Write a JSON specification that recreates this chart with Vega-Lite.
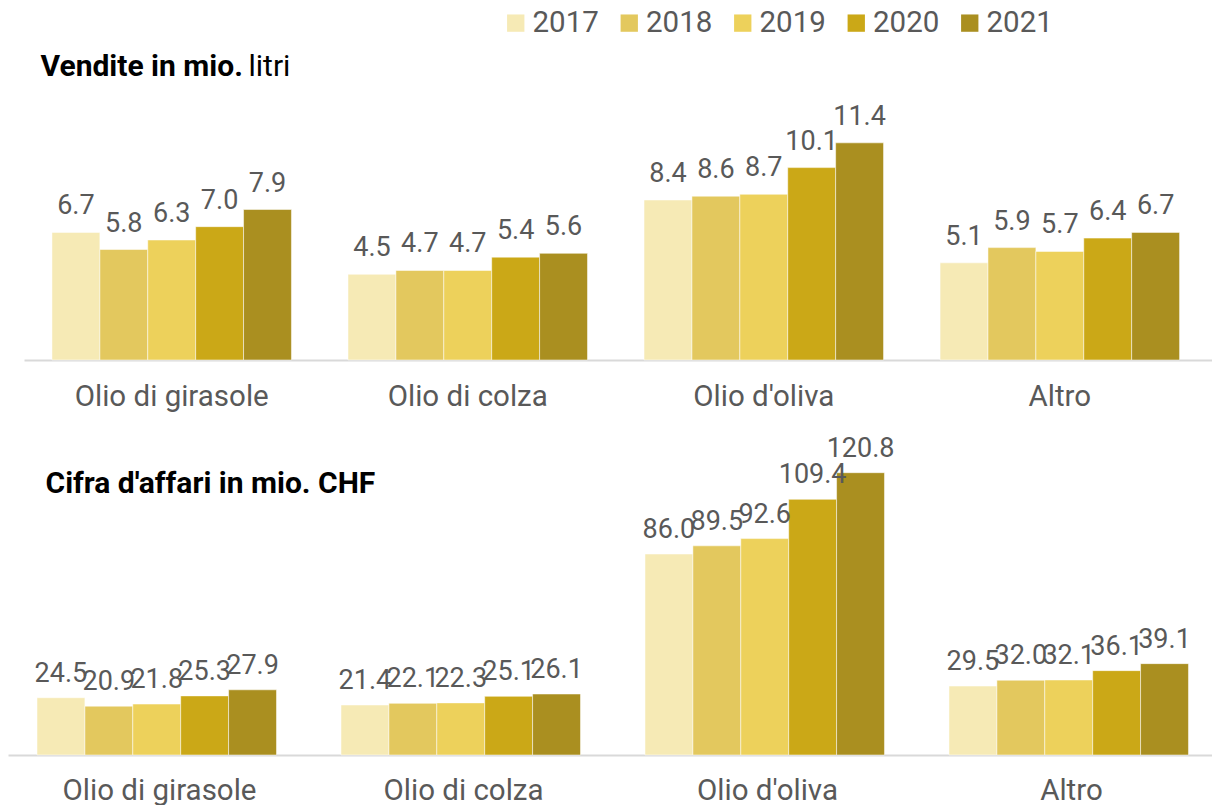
{
  "$schema": "https://vega.github.io/schema/vega-lite/v6.json",
  "padding": {"left": 8, "top": 8, "right": 0, "bottom": 0},
  "background": "white",
  "config": {"font": "Roboto", "view": {"stroke": null}, "axis": {"minExtent": 0}},
  "datasets": {
    "vendite": [
      {"categoria": "Olio di girasole", "anno": "2017", "valore": 6.7},
      {"categoria": "Olio di girasole", "anno": "2018", "valore": 5.8},
      {"categoria": "Olio di girasole", "anno": "2019", "valore": 6.3},
      {"categoria": "Olio di girasole", "anno": "2020", "valore": 7.0},
      {"categoria": "Olio di girasole", "anno": "2021", "valore": 7.9},
      {"categoria": "Olio di colza", "anno": "2017", "valore": 4.5},
      {"categoria": "Olio di colza", "anno": "2018", "valore": 4.7},
      {"categoria": "Olio di colza", "anno": "2019", "valore": 4.7},
      {"categoria": "Olio di colza", "anno": "2020", "valore": 5.4},
      {"categoria": "Olio di colza", "anno": "2021", "valore": 5.6},
      {"categoria": "Olio d'oliva", "anno": "2017", "valore": 8.4},
      {"categoria": "Olio d'oliva", "anno": "2018", "valore": 8.6},
      {"categoria": "Olio d'oliva", "anno": "2019", "valore": 8.7},
      {"categoria": "Olio d'oliva", "anno": "2020", "valore": 10.1},
      {"categoria": "Olio d'oliva", "anno": "2021", "valore": 11.4},
      {"categoria": "Altro", "anno": "2017", "valore": 5.1},
      {"categoria": "Altro", "anno": "2018", "valore": 5.9},
      {"categoria": "Altro", "anno": "2019", "valore": 5.7},
      {"categoria": "Altro", "anno": "2020", "valore": 6.4},
      {"categoria": "Altro", "anno": "2021", "valore": 6.7}
    ],
    "cifra": [
      {"categoria": "Olio di girasole", "anno": "2017", "valore": 24.5},
      {"categoria": "Olio di girasole", "anno": "2018", "valore": 20.9},
      {"categoria": "Olio di girasole", "anno": "2019", "valore": 21.8},
      {"categoria": "Olio di girasole", "anno": "2020", "valore": 25.3},
      {"categoria": "Olio di girasole", "anno": "2021", "valore": 27.9},
      {"categoria": "Olio di colza", "anno": "2017", "valore": 21.4},
      {"categoria": "Olio di colza", "anno": "2018", "valore": 22.1},
      {"categoria": "Olio di colza", "anno": "2019", "valore": 22.3},
      {"categoria": "Olio di colza", "anno": "2020", "valore": 25.1},
      {"categoria": "Olio di colza", "anno": "2021", "valore": 26.1},
      {"categoria": "Olio d'oliva", "anno": "2017", "valore": 86.0},
      {"categoria": "Olio d'oliva", "anno": "2018", "valore": 89.5},
      {"categoria": "Olio d'oliva", "anno": "2019", "valore": 92.6},
      {"categoria": "Olio d'oliva", "anno": "2020", "valore": 109.4},
      {"categoria": "Olio d'oliva", "anno": "2021", "valore": 120.8},
      {"categoria": "Altro", "anno": "2017", "valore": 29.5},
      {"categoria": "Altro", "anno": "2018", "valore": 32.0},
      {"categoria": "Altro", "anno": "2019", "valore": 32.1},
      {"categoria": "Altro", "anno": "2020", "valore": 36.1},
      {"categoria": "Altro", "anno": "2021", "valore": 39.1}
    ]
  },
  "spacing": 19,
  "resolve": {"legend": {"color": "independent"}},
  "vconcat": [
    {
      "width": 1204,
      "height": 260,
      "data": {"name": "vendite"},
      "encoding": {
        "x": {
          "field": "categoria", "type": "nominal",
          "sort": ["Olio di girasole", "Olio di colza", "Olio d'oliva", "Altro"],
          "scale": {"range": [16, 1204], "paddingInner": 0.191, "paddingOuter": 0.102, "align": 0.463},
          "axis": {
            "title": "litri", "titleX": 240, "titleY": -285, "titleAlign": "left", "titleBaseline": "alphabetic",
            "titleAngle": 0, "titleFontSize": 30, "titleFontWeight": "normal", "titleColor": "#000000",
            "labelAngle": 0, "labelFontSize": 29.5, "labelColor": "#595959", "labelPadding": 22, "labelLimit": 400,
            "ticks": false, "domainColor": "#D9D9D9", "domainWidth": 2, "grid": false
          }
        },
        "xOffset": {"field": "anno", "type": "nominal", "scale": {"paddingInner": 0, "paddingOuter": 0}},
        "y": {
          "field": "valore", "type": "quantitative",
          "scale": {"domain": [0, 13.65], "nice": false},
          "axis": {
            "title": "Vendite in mio.", "titleX": 32, "titleY": -25, "titleAngle": 0, "titleAlign": "left",
            "titleBaseline": "alphabetic", "titleFontSize": 30, "titleFontWeight": "bold", "titleColor": "#000000",
            "labels": false, "ticks": false, "domain": false, "grid": false
          }
        },
        "color": {
          "field": "anno", "type": "nominal",
          "scale": {"domain": ["2017", "2018", "2019", "2020", "2021"], "range": ["#F6EAB5", "#E3C85E", "#EDD15B", "#CBA817", "#AA8F20"]},
          "legend": {
            "orient": "none", "legendX": 493, "legendY": -92, "direction": "horizontal", "title": null,
            "symbolType": "square", "symbolSize": 300, "symbolStrokeWidth": 0, "symbolOpacity": 1,
            "labelFontSize": 29.5, "labelColor": "#595959", "labelOffset": 2, "columnPadding": 15.5, "padding": 0
          }
        }
      },
      "layer": [
        {"mark": {"type": "bar", "stroke": "#ffffff", "strokeWidth": 1, "strokeOpacity": 0.5}},
        {
          "mark": {"type": "text", "baseline": "alphabetic", "dy": -18, "fontSize": 27},
          "encoding": {
            "text": {"field": "valore", "type": "quantitative", "format": ".1f"},
            "color": {"value": "#595959"}
          }
        }
      ]
    },
    {
      "width": 1204,
      "height": 325,
      "data": {"name": "cifra"},
      "encoding": {
        "x": {
          "field": "categoria", "type": "nominal",
          "sort": ["Olio di girasole", "Olio di colza", "Olio d'oliva", "Altro"],
          "scale": {"paddingInner": 0.194, "paddingOuter": 0.0773, "align": 0.617},
          "axis": {
            "title": null,
            "labelAngle": 0, "labelFontSize": 29.5, "labelColor": "#595959", "labelPadding": 21, "labelLimit": 400,
            "ticks": false, "domainColor": "#D9D9D9", "domainWidth": 2, "grid": false
          }
        },
        "xOffset": {"field": "anno", "type": "nominal", "scale": {"paddingInner": 0, "paddingOuter": 0}},
        "y": {
          "field": "valore", "type": "quantitative",
          "scale": {"domain": [0, 139.07], "nice": false},
          "axis": {
            "title": "Cifra d'affari in mio. CHF", "titleX": 37, "titleY": 62, "titleAngle": 0, "titleAlign": "left",
            "titleBaseline": "alphabetic", "titleFontSize": 30, "titleFontWeight": "bold", "titleColor": "#000000",
            "labels": false, "ticks": false, "domain": false, "grid": false
          }
        },
        "color": {
          "field": "anno", "type": "nominal",
          "scale": {"domain": ["2017", "2018", "2019", "2020", "2021"], "range": ["#F6EAB5", "#E3C85E", "#EDD15B", "#CBA817", "#AA8F20"]},
          "legend": null
        }
      },
      "layer": [
        {"mark": {"type": "bar", "stroke": "#ffffff", "strokeWidth": 1, "strokeOpacity": 0.5}},
        {
          "mark": {"type": "text", "baseline": "alphabetic", "dy": -16, "fontSize": 27},
          "encoding": {
            "text": {"field": "valore", "type": "quantitative", "format": ".1f"},
            "color": {"value": "#595959"}
          }
        }
      ]
    }
  ]
}
